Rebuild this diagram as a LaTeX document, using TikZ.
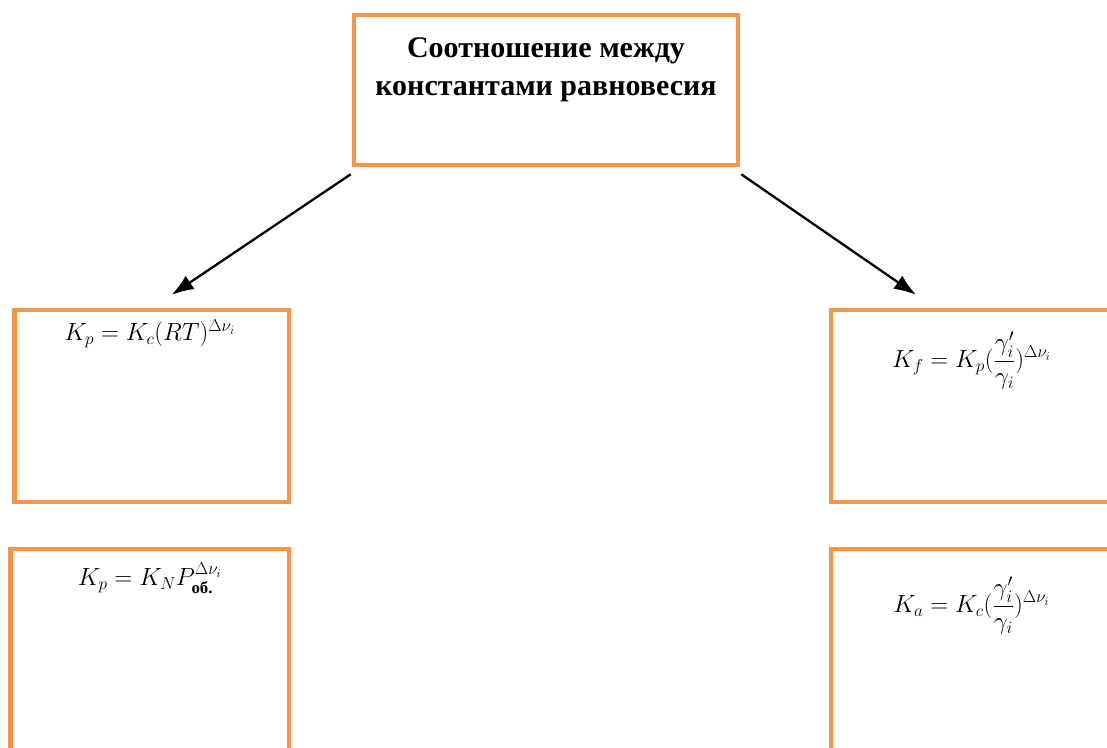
\documentclass[tikz,border=0pt]{standalone}
\usepackage{amsmath}
\usepackage{fontspec}
\setmainfont{Liberation Serif}
\usetikzlibrary{arrows.meta,positioning,calc}
\definecolor{boxorange}{HTML}{F79646}
\tikzset{
  box/.style   = {draw=boxorange, line width=4.5pt, fill=white, inner sep=0pt},
  head/.style  = {font=\fontsize{30}{38}\selectfont\bfseries, align=center, inner sep=0pt},
  frm/.style   = {font=\fontsize{24}{28}\selectfont, inner sep=0pt, anchor=base},
  arr/.style   = {-{Latex[length=22pt,width=16pt]}, draw=black, line width=2.3pt},
}

\begin{document}
\begin{tikzpicture}[x=1pt, y=-1pt]
  \useasboundingbox (0,0) rectangle (1107,747);
  \clip (0,0) rectangle (1107,747);
  \node[box, minimum width=384, minimum height=150] (title) at (546,90) {};
  \node[head, anchor=north] (titletxt) at ([yshift=-25pt]title.north)
    {Соотношение между\\константами равновесия};
  \node[box, minimum width=274.5, minimum height=192] (kpc) at (151.75,406) {};
  \node[box, minimum width=278.5, minimum height=211] (kpn) at (149.75,654.5) {};
  \node[box, minimum width=281, minimum height=192] (kf) at (971.5,406) {};
  \node[box, minimum width=281, minimum height=211] (ka) at (971.5,654.5) {};
  % formulas
  \node[frm] (fkpc) at ($(kpc.north)+(-2,33)$) {$K_p = K_c(RT)^{\Delta\nu_i}$};
  \node[frm] (fkpn) at ($(kpn.north)+(0,39)$) {$K_p = K_N P_{\textbf{об.}}^{\Delta\nu_i}$};
  \node[frm] (fkf) at ($(kf.north)+(0,60)$)
    {$\displaystyle K_f = K_p(\frac{\gamma_i'}{\gamma_i})^{\Delta\nu_i}$};
  \node[frm] (fka) at ($(ka.north)+(0,66)$)
    {$\displaystyle K_a = K_c(\frac{\gamma_i'}{\gamma_i})^{\Delta\nu_i}$};
  \draw[arr] ([shift={(-1,7)}]title.south west) -- ([shift={(20,-13)}]kpc.north);
  \draw[arr] ([shift={(1,7)}]title.south east) -- ([shift={(-55.5,-13)}]kf.north);
\end{tikzpicture}
\end{document}
